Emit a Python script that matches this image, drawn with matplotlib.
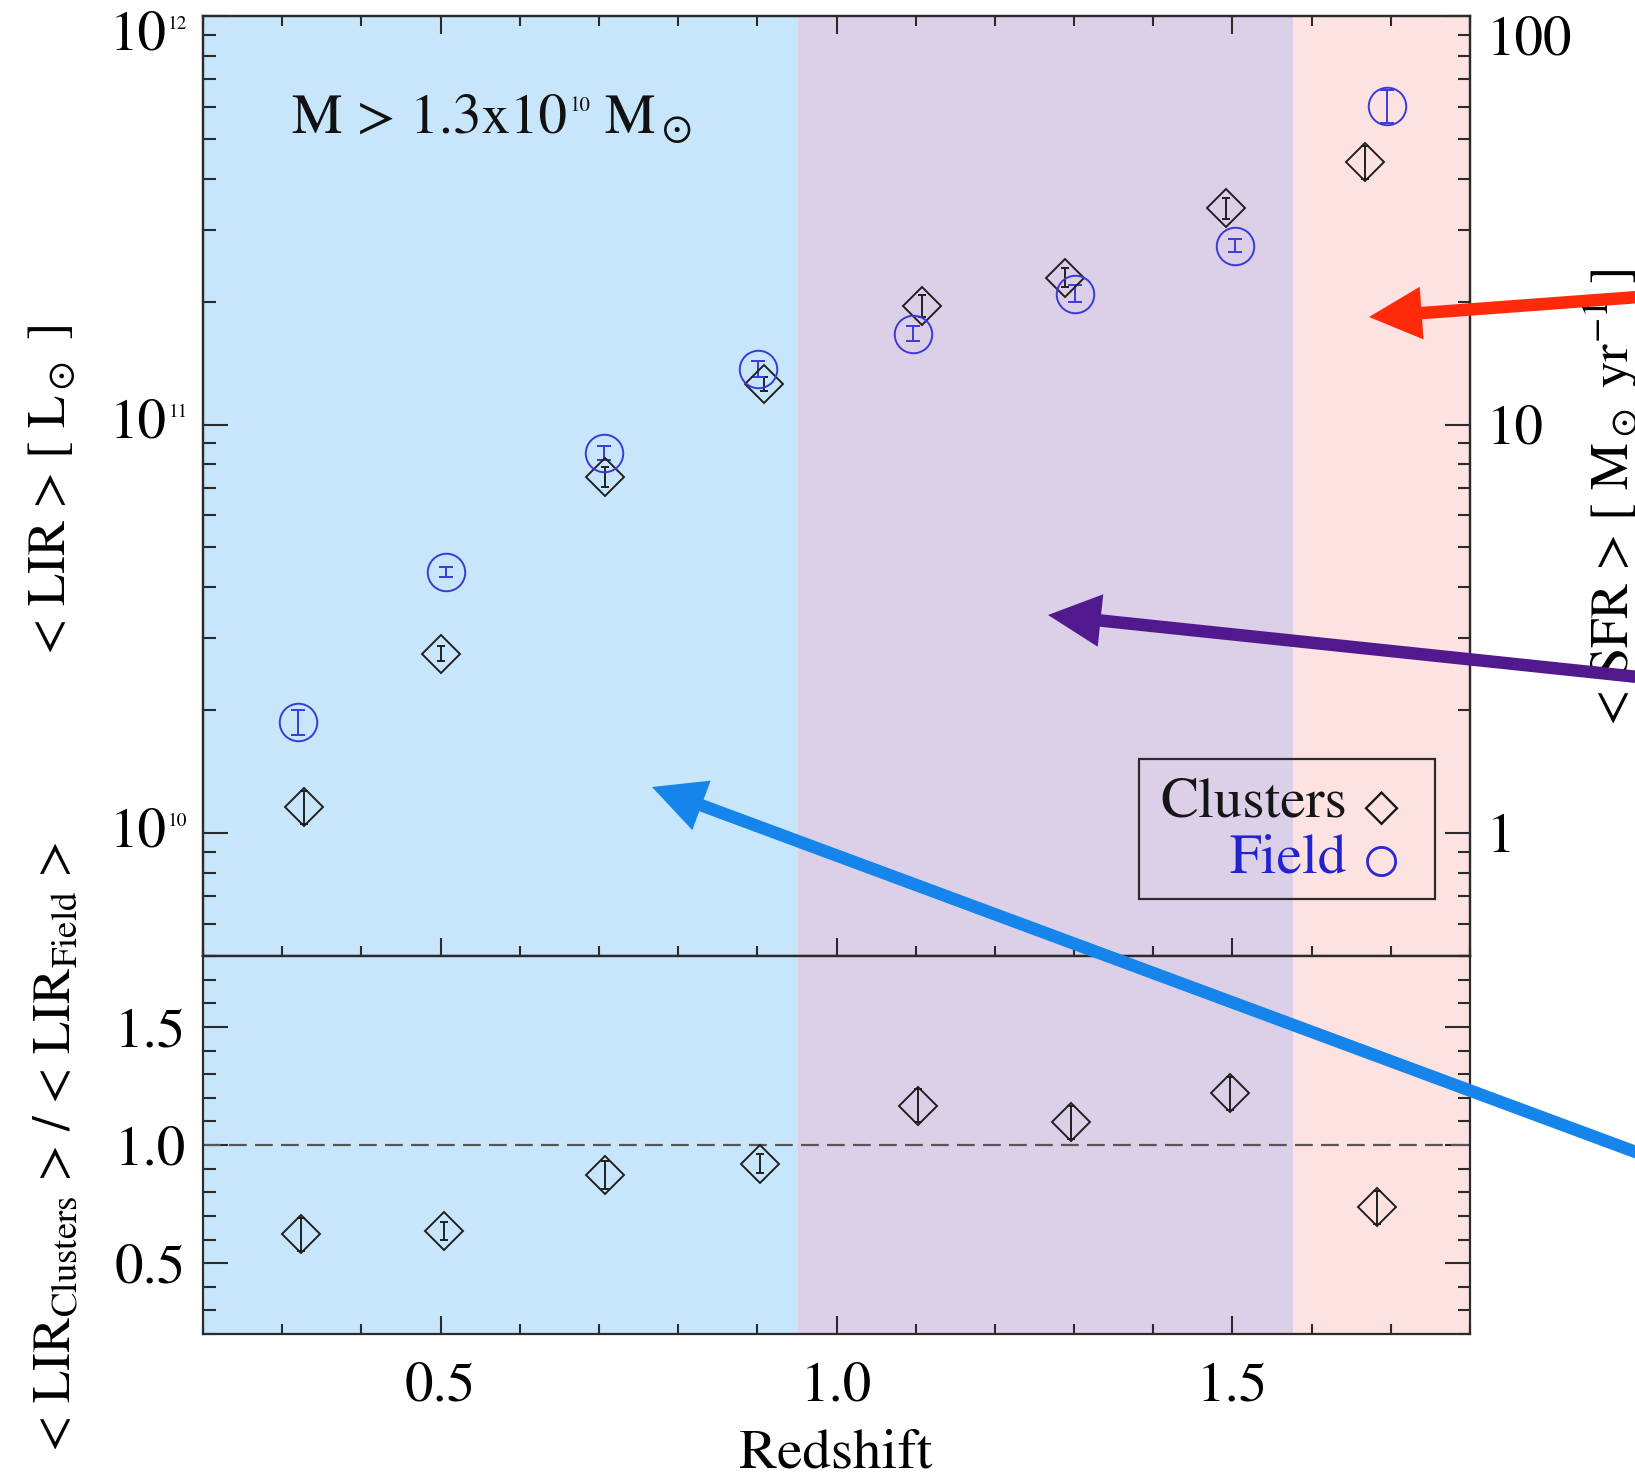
import numpy as np
import matplotlib
matplotlib.use('Agg')
import matplotlib.pyplot as plt
import matplotlib.transforms as mtransforms
from matplotlib.patches import Rectangle, FancyArrowPatch
from matplotlib.ticker import MultipleLocator, FixedLocator, LogLocator, FuncFormatter, NullFormatter

plt.rcParams['font.family'] = ['STIXGeneral', 'DejaVu Sans']
plt.rcParams['mathtext.fontset'] = 'stix'

# ---------------- data ----------------
z_clusters = [0.328, 0.500, 0.708, 0.909, 1.108, 1.289, 1.492, 1.668]
lir_clusters = [1.16e10, 2.75e10, 7.45e10, 1.26e11, 1.95e11, 2.29e11, 3.38e11, 4.40e11]
lir_clusters_err = [0.11e10, 0.12e10, 0.40e10, 0.05e11, 0.12e11, 0.12e11, 0.20e11, 0.40e11]

z_field = [0.320, 0.507, 0.707, 0.901, 1.097, 1.301, 1.503, 1.695]
lir_field = [1.87e10, 4.36e10, 8.53e10, 1.37e11, 1.67e11, 2.09e11, 2.74e11, 6.03e11]
lir_field_err = [0.13e10, 0.12e10, 0.35e10, 0.06e11, 0.07e11, 0.10e11, 0.10e11, 0.55e11]

z_ratio = [0.324, 0.504, 0.708, 0.904, 1.103, 1.296, 1.497, 1.683]
ratio = [0.623, 0.636, 0.873, 0.921, 1.167, 1.096, 1.219, 0.737]
ratio_err = [0.07, 0.04, 0.06, 0.04, 0.07, 0.07, 0.07, 0.07]

band_edges = [0.2, 0.952, 1.577, 1.8]
band_colors = ['#c8e6fb', '#dcd0e8', '#fde2e2']

x_ticks = [0.5, 1.0, 1.5]
x_ticklabels = ['0.5', '1.0', '1.5']
lir_ticks = [1e10, 1e11, 1e12]
lir_exponents = ['10', '11', '12']
sfr_ticks = [1, 10, 100]
ratio_ticks = [0.5, 1.0, 1.5]
ratio_ticklabels = ['0.5', '1.0', '1.5']

# ---------------- style ----------------
W, H = 1635, 1479
FS = 41
FS_LAB = 38
FS_SUP = 14
FRAME = '#2b2b2b'
CL_COL = '#202020'
FI_COL = '#3a3ad8'

fig = plt.figure(figsize=(W / 100, H / 100), dpi=100)
L, R = 203 / W, 1470 / W
y_top, y_div, y_bot = 16, 956, 1334
ax1 = fig.add_axes([L, 1 - y_div / H, R - L, (y_div - y_top) / H])
ax2 = fig.add_axes([L, 1 - y_bot / H, R - L, (y_bot - y_div) / H], sharex=ax1)

for ax in (ax1, ax2):
    for i in range(len(band_colors)):
        ax.axvspan(band_edges[i], band_edges[i + 1], color=band_colors[i], lw=0, zorder=0)
    for s in ax.spines.values():
        s.set_color(FRAME)
        s.set_linewidth(1.6)
    ax.set_xlim(0.2, 1.8)

# ---------------- top panel ----------------
ax1.set_yscale('log')
ax1.set_ylim(5e9, 1e12)
ax1.errorbar(z_clusters, lir_clusters, yerr=lir_clusters_err, fmt='D', ms=19,
             mfc='none', mec=CL_COL, mew=1.4, ecolor=CL_COL, elinewidth=1.4,
             capsize=3, capthick=1.4, zorder=3)
ax1.errorbar(z_field, lir_field, yerr=lir_field_err, fmt='o', ms=27,
             mfc='none', mec=FI_COL, mew=1.4, ecolor=FI_COL, elinewidth=1.4,
             capsize=5, capthick=1.4, zorder=3)

ax1.yaxis.set_major_locator(FixedLocator(lir_ticks))
ax1.yaxis.set_minor_locator(LogLocator(base=10, subs=np.arange(2, 10)))
ax1.yaxis.set_minor_formatter(NullFormatter())
ax1.xaxis.set_major_locator(FixedLocator(x_ticks))
ax1.xaxis.set_minor_locator(MultipleLocator(0.1))
ax1.tick_params(axis='x', which='both', direction='in', top=True, bottom=True,
                labelbottom=False, color=FRAME, width=1.5)
ax1.tick_params(axis='x', which='major', length=13)
ax1.tick_params(axis='x', which='minor', length=7)
ax1.tick_params(axis='y', which='both', direction='in', left=True, right=False,
                labelleft=False, color=FRAME, width=1.5)
ax1.tick_params(axis='y', which='major', length=18)
ax1.tick_params(axis='y', which='minor', length=9)

# left tick labels "10" with a small exponent
blend = mtransforms.blended_transform_factory(ax1.transAxes, ax1.transData)
for v, e in zip(lir_ticks, lir_exponents):
    dy = -14.5 if v == max(lir_ticks) else 0.0
    ax1.annotate('10', xy=(0, v), xycoords=blend, xytext=(-26, dy),
                 textcoords='offset points', ha='right', va='center', fontsize=FS)
    ax1.annotate(e, xy=(0, v), xycoords=blend, xytext=(-11, dy + 8.5),
                 textcoords='offset points', ha='right', va='center', fontsize=FS_SUP)

ax1r = ax1.twinx()
ax1r.set_yscale('log')
ax1r.set_ylim(ax1.get_ylim()[0] * 1e-10, ax1.get_ylim()[1] * 1e-10)
ax1r.yaxis.set_major_locator(FixedLocator(sfr_ticks))
ax1r.yaxis.set_major_formatter(FuncFormatter(lambda v, p: '%g' % v))
ax1r.yaxis.set_minor_locator(LogLocator(base=10, subs=np.arange(2, 10)))
ax1r.yaxis.set_minor_formatter(NullFormatter())
ax1r.tick_params(axis='y', which='both', direction='in', color=FRAME, width=1.5,
                 labelsize=FS, pad=12)
ax1r.tick_params(axis='y', which='major', length=18)
ax1r.tick_params(axis='y', which='minor', length=9)
for s in ax1r.spines.values():
    s.set_color(FRAME)
    s.set_linewidth(1.6)
ax1r.yaxis.get_major_ticks()[2].label2.set_va('top')

# mass-limit text with small exponent
t1 = ax1.text(0.070, 0.876, 'M > 1.3x10', transform=ax1.transAxes,
              fontsize=FS, color='#111111', ha='left', va='baseline')
t2 = ax1.annotate('10', xy=(1, 1), xycoords=t1, xytext=(2, -2),
                  textcoords='offset points', fontsize=FS_SUP + 1, color='#111111',
                  ha='left', va='top')
ax1.annotate(r' M$_\odot$', xy=(1, 0), xycoords=(t2, t1), xytext=(0, 0),
             textcoords='offset points', fontsize=FS, color='#111111',
             ha='left', va='bottom')

# legend box
ax1.add_patch(Rectangle((0.739, 0.0606), 0.233, 0.149, transform=ax1.transAxes,
                        fill=False, ec=FRAME, lw=1.6, zorder=5))
ax1.text(0.903, 0.148, 'Clusters', transform=ax1.transAxes, fontsize=FS,
         color='#151515', ha='right', va='baseline', zorder=6)
ax1.text(0.930, 0.148, '\u25C7', transform=ax1.transAxes, fontsize=25,
         color='#151515', ha='center', va='baseline', zorder=6)
ax1.text(0.903, 0.089, 'Field', transform=ax1.transAxes, fontsize=FS,
         color='#2222d0', ha='right', va='baseline', zorder=6)
ax1.text(0.930, 0.089, '\u25CB', transform=ax1.transAxes, fontsize=30,
         color='#2a2ad4', ha='center', va='baseline', zorder=6)

# ---------------- bottom panel ----------------
ax2.set_ylim(0.2, 1.8)
ax2.axhline(1.0, color='#555555', lw=1.6, ls=(0, (8, 3.7)), zorder=2)
ax2.errorbar(z_ratio, ratio, yerr=ratio_err, fmt='D', ms=19,
             mfc='none', mec=CL_COL, mew=1.4, ecolor=CL_COL, elinewidth=1.4,
             capsize=3, capthick=1.4, zorder=3)
ax2.set_xticks(x_ticks)
ax2.set_xticklabels(x_ticklabels)
ax2.xaxis.set_minor_locator(MultipleLocator(0.1))
ax2.set_yticks(ratio_ticks)
ax2.set_yticklabels(ratio_ticklabels)
ax2.yaxis.set_minor_locator(MultipleLocator(0.1))
ax2.tick_params(axis='x', which='both', direction='in', top=False, bottom=True,
                color=FRAME, width=1.5, labelsize=FS, pad=20)
ax2.tick_params(axis='x', which='major', length=13)
ax2.tick_params(axis='x', which='minor', length=7)
ax2.tick_params(axis='y', which='both', direction='in', left=True, right=True,
                color=FRAME, width=1.5, labelsize=FS, pad=12)
ax2.tick_params(axis='y', which='major', length=18)
ax2.tick_params(axis='y', which='minor', length=9)

# ---------------- axis titles ----------------
fig.text(836 / W, 1 - 1468 / H, 'Redshift', fontsize=FS, ha='center', va='baseline')
fig.text(52 / W, 1 - 490 / H, r'< LIR > [ L$_\odot$ ]', fontsize=FS_LAB,
         rotation=90, ha='center', va='center')
fig.text(58 / W, 1 - 1147 / H,
         r'< LIR$_{\rm Clusters}$ > / < LIR$_{\rm Field}$ >',
         fontsize=FS_LAB, rotation=90, ha='center', va='center')
fig.text(1612 / W, 1 - 497 / H, r'< SFR > [ M$_\odot$ yr$^{-1}$ ]', fontsize=FS_LAB,
         rotation=90, ha='center', va='center')

# ---------------- arrows ----------------
def fpt(x, y):
    return (x / W, 1 - y / H)

arrows = [((1800, 285), (1369, 317), '#ff2a0a'),
          ((1800, 694), (1048, 615), '#52198f'),
          ((1800, 1213), (652, 787), '#1585ec')]
for tail, tip, col in arrows:
    fig.add_artist(FancyArrowPatch(fpt(*tail), fpt(*tip), transform=fig.transFigure,
                                   arrowstyle='simple,head_length=0.38,head_width=0.38,tail_width=0.09',
                                   mutation_scale=100, color=col, lw=0,
                                   shrinkA=0, shrinkB=0, zorder=20))

fig.savefig('out.png', dpi=100)
